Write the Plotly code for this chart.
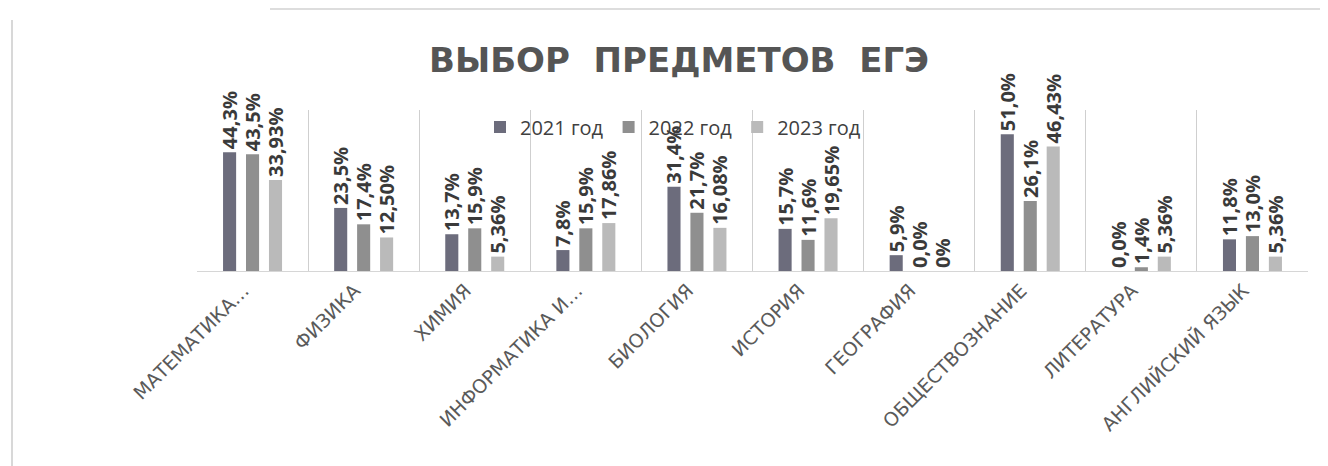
import plotly.graph_objects as go

categories = ["МАТЕМАТИКА…", "ФИЗИКА", "ХИМИЯ", "ИНФОРМАТИКА И…", "БИОЛОГИЯ",
              "ИСТОРИЯ", "ГЕОГРАФИЯ", "ОБЩЕСТВОЗНАНИЕ", "ЛИТЕРАТУРА", "АНГЛИЙСКИЙ ЯЗЫК"]
series_names = ["2021 год", "2022 год", "2023 год"]
values_2021 = [44.3, 23.5, 13.7, 7.8, 31.4, 15.7, 5.9, 51.0, 0.0, 11.8]
values_2022 = [43.5, 17.4, 15.9, 15.9, 21.7, 11.6, 0.0, 26.1, 1.4, 13.0]
values_2023 = [33.93, 12.50, 5.36, 17.86, 16.08, 19.65, 0.0, 46.43, 5.36, 5.36]
labels_2021 = ["44,3%", "23,5%", "13,7%", "7,8%", "31,4%", "15,7%", "5,9%", "51,0%", "0,0%", "11,8%"]
labels_2022 = ["43,5%", "17,4%", "15,9%", "15,9%", "21,7%", "11,6%", "0,0%", "26,1%", "1,4%", "13,0%"]
labels_2023 = ["33,93%", "12,50%", "5,36%", "17,86%", "16,08%", "19,65%", "0%", "46,43%", "5,36%", "5,36%"]
colors = ["#6c6c7c", "#8f8f8f", "#bababa"]

# page has an 8px body margin, so the figure is drawn 8px lower/right
OFF = 8
W, H = 1320, 458
L, R, T, B = 189, 20, 102, 195

fig = go.Figure()
for name, vals, labs, col in zip(series_names,
                                  [values_2021, values_2022, values_2023],
                                  [labels_2021, labels_2022, labels_2023],
                                  colors):
    fig.add_trace(go.Bar(
        x=categories, y=vals, name=name, text=labs,
        textposition="outside", textangle=-90, constraintext="none",
        cliponaxis=False,
        textfont=dict(family="Open Sans", size=20, color="#3a3a3a", weight="bold"),
        marker=dict(color=col, line=dict(width=0)),
    ))

pw = W - L - R
ph = H - T - B
def px_x(p):
    return (p - OFF - L) / pw
def px_y(p):
    return (H - B - (p - OFF)) / ph

fig.update_layout(
    width=W, height=H,
    margin=dict(l=L, r=R, t=T, b=B, pad=0),
    paper_bgcolor="white", plot_bgcolor="white",
    barmode="group", bargap=0.38, bargroupgap=0.43,
    title=dict(text="ВЫБОР  ПРЕДМЕТОВ  ЕГЭ", x=(679 - OFF) / W, xanchor="center",
               y=1 - (60 - OFF) / H, yanchor="middle",
               font=dict(family="DejaVu Sans", size=34, color="#555555", weight="bold")),
    legend=dict(orientation="h", x=px_x(480), xanchor="left", y=px_y(127), yanchor="middle",
                bgcolor="rgba(0,0,0,0)", font=dict(family="Open Sans", size=20, color="#404040"),
                itemwidth=30, traceorder="normal"),
    showlegend=True,
    xaxis=dict(tickangle=-45, tickson="boundaries", showgrid=True, gridcolor="#cfcfcf",
               gridwidth=1, showline=True, linecolor="#d6d6d6", linewidth=1,
               ticks="", ticklabelshift=-9,
               tickfont=dict(family="DejaVu Sans", size=19, color="#5a5a5a")),
    yaxis=dict(range=[0, 60], visible=False, showgrid=False, zeroline=False),
    shapes=[
        dict(type="line", xref="paper", yref="paper", x0=px_x(12), x1=px_x(12),
             y0=px_y(20), y1=px_y(470), line=dict(color="#d8d8d8", width=2)),
        dict(type="line", xref="paper", yref="paper", x0=px_x(270), x1=px_x(1340),
             y0=px_y(9), y1=px_y(9), line=dict(color="#dddddd", width=2)),
    ],
)

fig.write_html("out.html")
